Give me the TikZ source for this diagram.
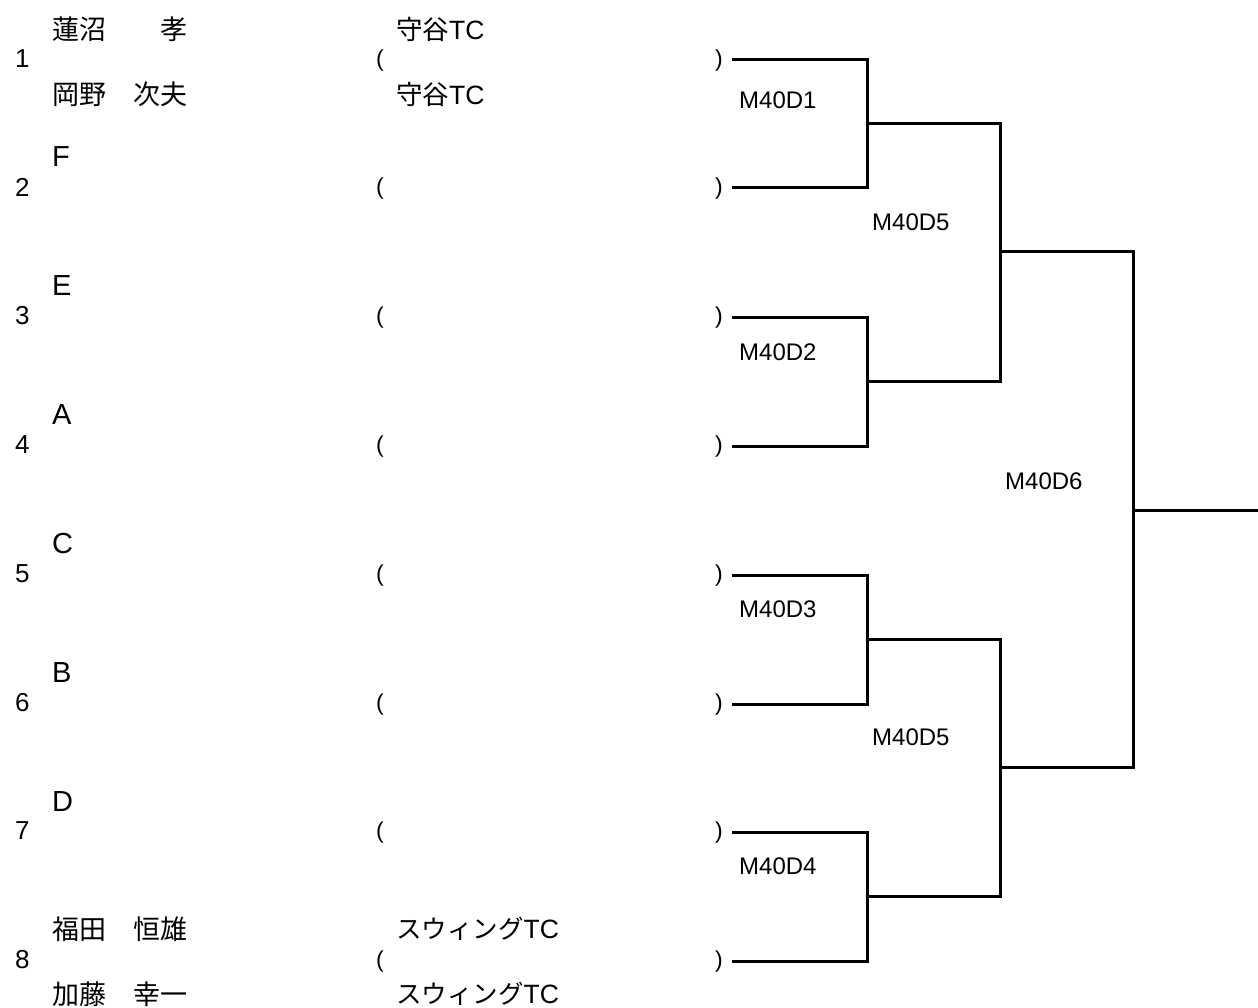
\documentclass[tikz,border=0pt]{standalone}
\usepackage{fontspec}
\setmainfont{Liberation Sans}
\newfontfamily\jpfont{Noto Sans CJK JP}
\usetikzlibrary{positioning}
\tikzset{
    % bracket lines
    bracket/.style={
           line width=3pt,
           },
    seed/.style={anchor=west, inner sep=0pt, font=\fontsize{26}{26}\selectfont},
    player/.style={anchor=west, inner sep=0pt, font=\jpfont\fontsize{27}{27}\selectfont},
    pair/.style={anchor=west, inner sep=0pt, font=\fontsize{29}{29}\selectfont},
    club/.style={anchor=west, inner sep=0pt, font=\fontsize{26.5}{26}\selectfont},
    paren/.style={inner sep=0pt, font=\fontsize{23}{23}\selectfont},
    match/.style={anchor=west, inner sep=0pt, font=\fontsize{24}{24}\selectfont},
}

\begin{document}
\begin{tikzpicture}[x=1pt,y=-1pt]
  	\useasboundingbox (0,0) rectangle (1258,1008);
  	\foreach \i/\y in {1/60,2/188,3/317,4/446,5/575,6/704,7/832,8/961}{
  		\node[seed] (n\i) at (15,\y-1) {\i};
  		\node[paren] (lp\i) at (380,\y+1) {(};
  		\node[paren] (rp\i) at (719,\y+1) {)};
  		\coordinate (e\i) at (732,\y);
  	}
  	% players
  	\node[player] (p1a) at (52,29) {蓮沼　　孝};
  	\node[player] (p1b) at (52,94) {岡野　次夫};
  	\node[pair] (p2) at (52,157) {F};
  	\node[pair] (p3) at (52,286) {E};
  	\node[pair] (p4) at (52,415) {A};
  	\node[pair] (p5) at (52,544) {C};
  	\node[pair] (p6) at (52,673) {B};
  	\node[pair] (p7) at (52,802) {D};
  	\node[player] (p8a) at (52,929) {福田　恒雄};
  	\node[player] (p8b) at (52,994) {加藤　幸一};
  	% clubs
  	\node[club] (c1a) at (396,29) {{\jpfont 守谷}TC};
  	\node[club] (c1b) at (396,94) {{\jpfont 守谷}TC};
  	\node[club] (c8a) at (396,929) {{\jpfont\fontsize{25.5}{25}\selectfont スウィング}TC};
  	\node[club] (c8b) at (396,994) {{\jpfont\fontsize{25.5}{25}\selectfont スウィング}TC};
  	% junctions
  	\coordinate (j1) at (867,124);
  	\coordinate (j2) at (867,381);
  	\coordinate (j3) at (867,639);
  	\coordinate (j4) at (867,896);
  	\coordinate (k1) at (1000,252);
  	\coordinate (k2) at (1000,767);
  	\coordinate (w) at (1133,510);
  	\coordinate (fin) at (1258,510);
  	\draw[bracket] (e1) -| (j1) |- (e2);
  	\draw[bracket] (e3) -| (j2) |- (e4);
  	\draw[bracket] (e5) -| (j3) |- (e6);
  	\draw[bracket] (e7) -| (j4) |- (e8);
  	\draw[bracket] (j1) -| (k1) |- (j2);
  	\draw[bracket] (j3) -| (k2) |- (j4);
  	\draw[bracket] (k1) -| (w) |- (k2);
  	\draw[bracket] (w) -- (fin);
  	% match labels
  	\node[match] (m1) at (739,100) {M40D1};
  	\node[match] (m2) at (739,352) {M40D2};
  	\node[match] (m3) at (739,609) {M40D3};
  	\node[match] (m4) at (739,866) {M40D4};
  	\node[match] (m5) at (872,222) {M40D5};
  	\node[match] (m7) at (872,737) {M40D5};
  	\node[match] (m6) at (1005,481) {M40D6};
\end{tikzpicture}
\end{document}
